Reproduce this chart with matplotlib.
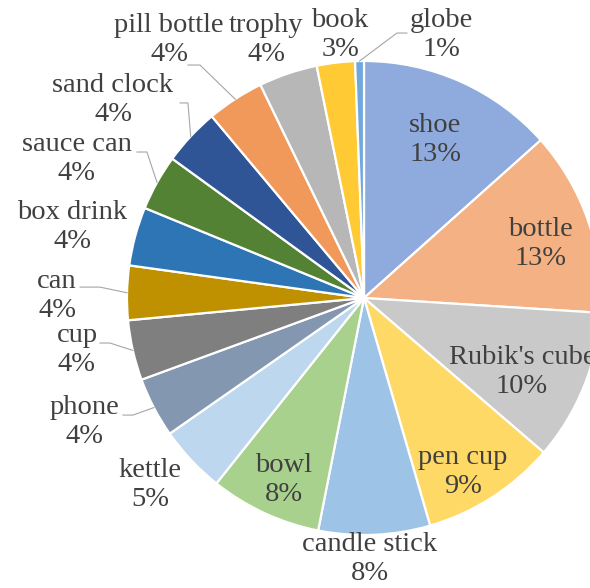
import numpy as np
import matplotlib
matplotlib.use("Agg")
import matplotlib.pyplot as plt

# object categories, clockwise from 12 o'clock
names = ["shoe", "bottle", "Rubik's cube", "pen cup", "candle stick", "bowl",
         "kettle", "phone", "cup", "can", "box drink", "sauce can",
         "sand clock", "pill bottle", "trophy", "book", "globe"]
share = [13.4, 12.6, 10.3, 9.2, 7.6, 7.6,
         4.6, 4.1, 4.1, 3.7, 4.0, 3.8,
         3.9, 3.9, 4.0, 2.6, 0.6]
colors = ["#8FAADC", "#F4B183", "#C9C9C9", "#FFD966", "#9DC3E6", "#A9D18E",
          "#BDD7EE", "#8497B0", "#7F7F7F", "#BF9000", "#2E75B6", "#548235",
          "#2F5597", "#F1995B", "#B7B7B7", "#FFCA33", "#6FA8DC"]

# label centres (pie radius = 1)
label_xy = [(0.30, 0.667), (0.743, 0.228), (0.667, -0.312), (0.418, -0.734),
            (0.025, -1.101), (-0.338, -0.768), (-0.903, -0.789), (-1.181, -0.523),
            (-1.211, -0.219), (-1.295, 0.008), (-1.232, 0.300), (-1.211, 0.586),
            (-1.059, 0.835), (-0.822, 1.089), (-0.412, 1.089), (-0.101, 1.110),
            (0.325, 1.110)]
# leader lines: elbow and end point next to the text
leaders = {
    "globe": [(0.139, 1.118), (0.181, 1.118)],
    "pill bottle": [(-0.692, 0.983), (-0.743, 0.983)],
    "sand clock": [(-0.743, 0.823), (-0.776, 0.823)],
    "sauce can": [(-0.916, 0.616), (-0.958, 0.616)],
    "can": [(-1.114, 0.046), (-1.198, 0.046)],
    "cup": [(-1.072, -0.190), (-1.114, -0.190)],
    "phone": [(-0.975, -0.494), (-1.017, -0.494)],
}

fig = plt.figure(figsize=(5.9, 5.88), dpi=100)
ax = fig.add_axes([127 / 590, 53 / 588, 474 / 590, 474 / 588])

total = sum(share)
ax.pie(share, colors=colors, startangle=90, counterclock=False, radius=1,
       wedgeprops=dict(edgecolor="white", linewidth=1.6))
ax.set_xlim(-1, 1)
ax.set_ylim(-1, 1)
ax.set_aspect("equal")
ax.axis("off")

cum = np.cumsum([0] + share[:-1])
for i, name in enumerate(names):
    pct = share[i] / total * 100
    x, y = label_xy[i]
    ax.text(x, y, "%s\n%.0f%%" % (name, pct), ha="center", va="center",
            fontsize=20.5, family="Liberation Serif", color="#404040",
            linespacing=1.2, clip_on=False)
    if name in leaders:
        mid = np.deg2rad((cum[i] + share[i] / 2) / total * 360)
        pts = [(np.sin(mid), np.cos(mid))] + leaders[name]
        ax.plot([p[0] for p in pts], [p[1] for p in pts], color="#A6A6A6",
                lw=0.8, clip_on=False)

fig.savefig("out.png", dpi=100)
